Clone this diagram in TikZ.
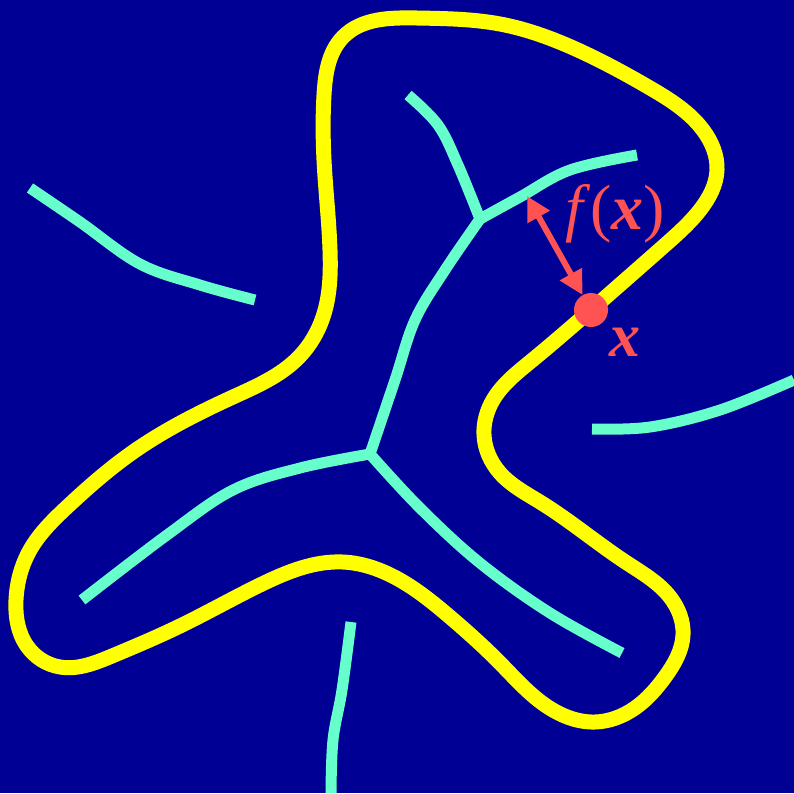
\documentclass[tikz,border=0pt]{standalone}
\usepackage{fontspec}
\setmainfont{Liberation Serif}
\usetikzlibrary{arrows.meta,hobby}
\definecolor{bg}{RGB}{0,0,148}
\definecolor{ylw}{RGB}{255,255,0}
\definecolor{aqua}{RGB}{102,255,204}
\definecolor{redc}{RGB}{255,82,82}
\tikzset{
  boundary/.style={draw=ylw,line width=15pt,line join=round},
  skel/.style={draw=aqua,line width=11pt,line cap=butt,line join=round},
  distarrow/.style={draw=redc,line width=6pt,{Triangle[length=24pt,width=24pt]}-{Triangle[length=24pt,width=24pt]}},
  lbl/.style={text=redc,inner sep=0pt}
}
\begin{document}
\begin{tikzpicture}[x=1pt,y=-1pt]
\fill[bg] (0,0) rectangle (794,793);
\useasboundingbox (0,0) rectangle (794,793);
% yellow boundary
\draw[boundary,use Hobby shortcut,closed=true]
 (343,37) .. (417,18) .. (500,24) .. (580,51) .. (650,88) .. (703,130) .. (717,170) .. (700,210) .. (665,245) .. (591,310) .. (530,362) .. (493,400) .. (484,435) .. (500,473) .. (540,502) .. (627,563) .. (670,597) .. (683,635) .. (665,677) .. (635,708) .. (595,722) .. (545,705) .. (500,663) .. (450,617) .. (405,583) .. (343,562) .. (262,584) .. (180,626) .. (112,656) .. (60,667) .. (27,646) .. (16,600) .. (30,550) .. (67,507) .. (133,452) .. (233,397) .. (298,358) .. (323,317) .. (330,250) .. (324,160) .. (324,95);
% skeleton curves
\coordinate (j1) at (480,219);
\coordinate (j2) at (370,454);
\coordinate (a1) at (30,188);   \coordinate (a2) at (255,300);
\coordinate (t1) at (408,95);
\coordinate (r1) at (637,155);
\coordinate (l1) at (82,600);
\coordinate (d1) at (622,653);
\coordinate (s1) at (592,429);  \coordinate (s2) at (794,380);
\coordinate (b1) at (351,622);  \coordinate (b2) at (331,793);
\draw[skel] plot[smooth,tension=0.6] coordinates {(a1) (80,222) (140,264) (200,285) (a2)};
\draw[skel] plot[smooth,tension=0.6] coordinates {(t1) (438,125) (458,165) (j1)};
\draw[skel] plot[smooth,tension=0.6] coordinates {(j1) (520,197) (570,170) (r1)};
\draw[skel] plot[smooth,tension=0.6] coordinates {(j1) (445,270) (415,320) (395,380) (j2)};
\draw[skel] plot[smooth,tension=0.6] coordinates {(j2) (300,468) (233,490) (167,535) (l1)};
\draw[skel] plot[smooth,tension=0.6] coordinates {(j2) (420,508) (480,563) (550,613) (d1)};
\draw[skel] plot[smooth,tension=0.6] coordinates {(s1) (650,427) (720,410) (s2)};
\draw[skel] plot[smooth,tension=0.6] coordinates {(b1) (342,690) (333,740) (b2)};
% point and distance
\coordinate (q) at (527,196);
\node[circle,fill=redc,minimum size=34pt,inner sep=0pt] (p) at (591,310) {};
\draw[distarrow] (q) -- (p);
\node[lbl,anchor=base west,font=\fontsize{64}{64}\selectfont] (fx) at (565,229) {\textit{f}(\textbf{\textit{x}})};
\node[lbl,anchor=base west,font=\fontsize{62}{62}\selectfont] (xl) at (609,356) {\textbf{\textit{x}}};
\end{tikzpicture}
\end{document}
